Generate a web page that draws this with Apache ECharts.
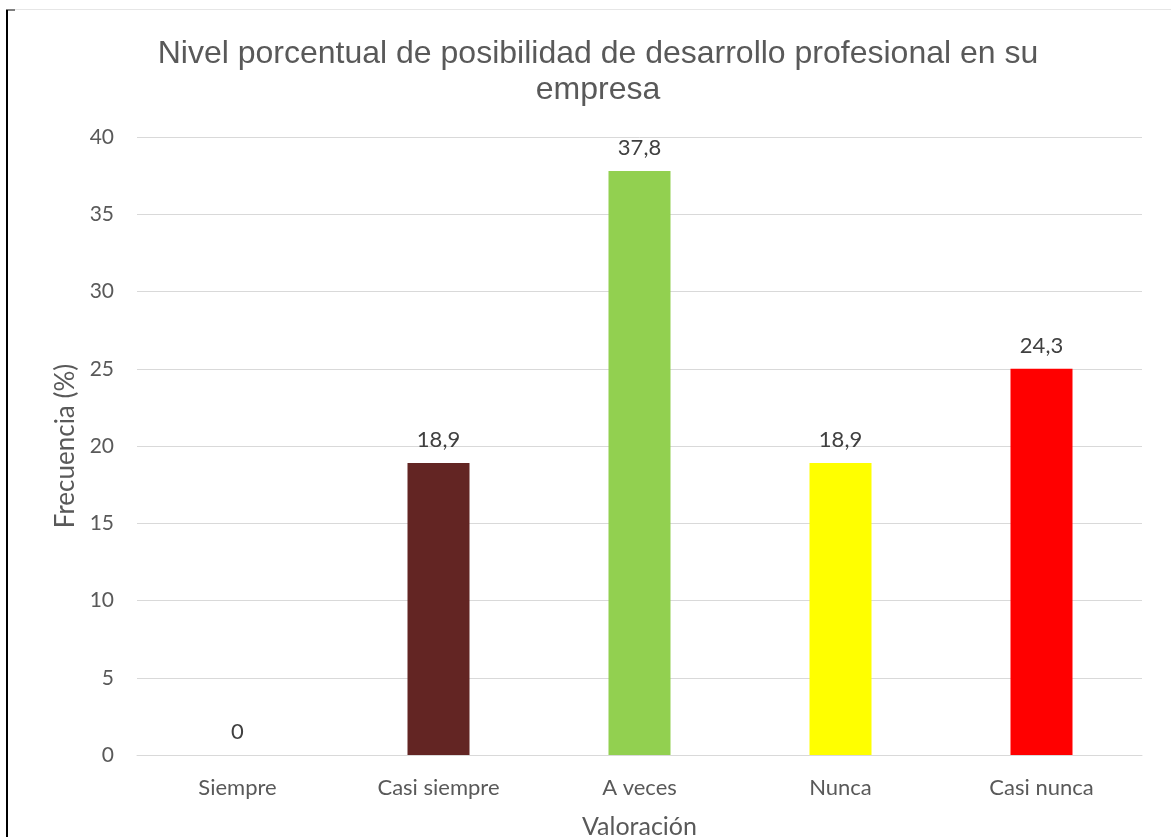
<!DOCTYPE html>
<html>
<head>
<meta charset="utf-8">
<script src="https://cdn.jsdelivr.net/npm/echarts@6/dist/echarts.min.js"></script>
<style>
html,body{margin:0;padding:0;background:#fff;}
#main{width:1174px;height:837px;}
</style>
</head>
<body>
<div id="main"></div>
<script>
const titleText = "Nivel porcentual de posibilidad de desarrollo profesional en su\nempresa";
const categories = ["Siempre", "Casi siempre", "A veces", "Nunca", "Casi nunca"];
const values = [0, 18.9, 37.8, 18.9, 25];
const labelTexts = ["0", "18,9", "37,8", "18,9", "24,3"];
const barColors = ["#4472C4", "#632523", "#92D050", "#FFFF00", "#FF0000"];
const yTicks = { min: 0, max: 40, interval: 5 };
const xAxisName = "Valoración";
const yAxisName = "Frecuencia (%)";

const chart = echarts.init(document.getElementById('main'), null, { renderer: 'canvas' });
const font = "Lato, 'Open Sans', sans-serif";
chart.setOption({
  animation: false,
  backgroundColor: '#ffffff',
  title: {
    text: titleText,
    left: 593,
    top: 31,
    textAlign: 'center',
    textStyle: { fontFamily: "'Liberation Sans', Arial, sans-serif", fontSize: 32, fontWeight: 'normal', color: '#595959', lineHeight: 36 }
  },
  grid: { left: 137, right: 32, top: 137, bottom: 82, containLabel: false, outerBoundsMode: 'none' },
  xAxis: {
    type: 'category',
    data: categories,
    name: xAxisName,
    nameLocation: 'middle',
    nameGap: 59,
    nameTextStyle: { fontFamily: font, fontSize: 25, color: '#595959' },
    axisLine: { show: true, lineStyle: { color: '#D9D9D9', width: 1 } },
    axisTick: { show: false },
    axisLabel: { fontFamily: font, fontSize: 22, color: '#595959', margin: 22 }
  },
  yAxis: {
    type: 'value',
    min: yTicks.min, max: yTicks.max, interval: yTicks.interval,
    name: yAxisName,
    nameLocation: 'middle',
    nameGap: 51,
    nameTextStyle: { fontFamily: font, fontSize: 26, color: '#595959' },
    axisLine: { show: false },
    axisTick: { show: false },
    axisLabel: { fontFamily: font, fontSize: 21, color: '#595959', margin: 23 },
    splitLine: { lineStyle: { color: '#D9D9D9', width: 1 } }
  },
  series: [{
    type: 'bar',
    barWidth: 62,
    data: values.map((v, i) => ({ value: v, itemStyle: { color: barColors[i] } })),
    label: {
      show: true,
      position: 'top',
      distance: 12,
      fontFamily: font, fontSize: 22, color: '#404040',
      formatter: p => labelTexts[p.dataIndex]
    }
  }],
  graphic: [
    { type: 'line', shape: { x1: 7, y1: 10, x2: 7, y2: 837 }, style: { stroke: '#000', lineWidth: 2 } },
    { type: 'line', shape: { x1: 6, y1: 10, x2: 15, y2: 10 }, style: { stroke: '#000', lineWidth: 1 } },
    { type: 'line', shape: { x1: 15, y1: 9.5, x2: 1171, y2: 9.5 }, style: { stroke: '#E6E6E6', lineWidth: 1 } }
  ]
});
</script>
</body>
</html>
